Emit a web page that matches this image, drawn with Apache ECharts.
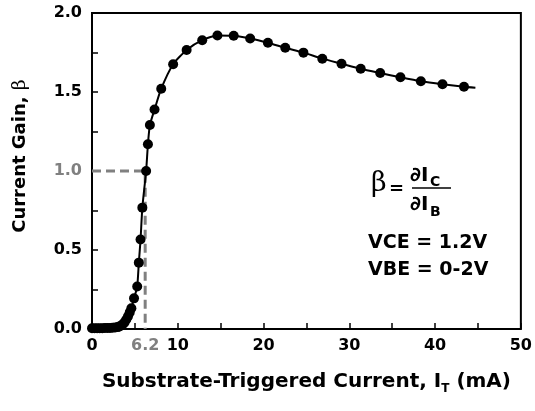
<!DOCTYPE html>
<html>
<head>
<meta charset="utf-8">
<script src="https://cdn.jsdelivr.net/npm/echarts@6/dist/echarts.min.js"></script>
<style>
  html, body { margin: 0; padding: 0; background: #fff; }
  #main { width: 535px; height: 411px; }
</style>
</head>
<body>
<div id="main"></div>
<script>
// substrate-triggered current (mA) and current gain
const currentMA = [0.0, 0.3, 0.6, 0.9, 1.2, 1.5, 1.8, 2.1, 2.4, 2.7, 3.0, 3.2, 3.4, 3.6, 3.8, 4.0, 4.2, 4.4,
  4.59, 4.90, 5.27, 5.46, 5.66, 5.87, 6.31, 6.52, 6.75, 7.29, 8.07, 9.46, 11.03, 12.85, 14.62, 16.52,
  18.44, 20.51, 22.53, 24.65, 26.85, 29.09, 31.33, 33.60, 35.96, 38.34, 40.86, 43.37];
const gain = [0.005, 0.005, 0.005, 0.005, 0.005, 0.006, 0.006, 0.007, 0.008, 0.010, 0.012, 0.016, 0.022, 0.030, 0.042, 0.060, 0.080, 0.105,
  0.131, 0.194, 0.269, 0.420, 0.566, 0.768, 1.000, 1.169, 1.291, 1.389, 1.521, 1.676, 1.766, 1.828, 1.858, 1.856,
  1.839, 1.812, 1.780, 1.749, 1.711, 1.679, 1.647, 1.620, 1.593, 1.568, 1.549, 1.533];
// fitted curve runs a little past the last measured point
const fitEnd = [44.7, 1.527];

// the beta = 1 crossing marked with dashed lines
const crossX = 6.2;
const crossY = 1.0;

const xLabels = [0, crossX, 10, 20, 30, 40, 50];
const yLabels = [0, 0.5, 1.0, 1.5, 2.0];

const chart = echarts.init(document.getElementById('main'));

const points = currentMA.map((x, i) => [x, gain[i]]);
points.push({ value: fitEnd, symbol: 'none' });

const font = '"DejaVu Sans", sans-serif';

chart.setOption({
  animation: false,
  grid: {
    left: 92, right: 11, top: 13, bottom: 82,
    show: true, borderColor: '#000', borderWidth: 2
  },
  xAxis: {
    type: 'value', min: 0, max: 50, interval: 5,
    axisLine: { show: false },
    axisTick: { show: true, inside: true, length: 6, lineStyle: { color: '#000', width: 1.5 } },
    splitLine: { show: false },
    axisLabel: {
      customValues: xLabels,
      margin: 9,
      formatter: v => v === crossX ? '{g|6.2}' : '{b|' + v + '}',
      rich: {
        b: { color: '#000', fontSize: 16, fontWeight: 'bold', fontFamily: font },
        g: { color: '#808080', fontSize: 16, fontWeight: 'bold', fontFamily: font }
      }
    },
    name: '{t|Substrate-Triggered Current, I}{s|T}{t| (mA)}',
    nameLocation: 'middle',
    nameGap: 40,
    nameTextStyle: {
      rich: {
        t: { fontSize: 20, fontWeight: 'bold', color: '#000', fontFamily: font },
        s: { fontSize: 12, fontWeight: 'bold', color: '#000', fontFamily: font, padding: [14, 0, 0, 0] }
      }
    }
  },
  yAxis: {
    type: 'value', min: 0, max: 2, interval: 0.25,
    axisLine: { show: false },
    axisTick: { show: true, inside: true, length: 6, lineStyle: { color: '#000', width: 1.5 } },
    splitLine: { show: false },
    axisLabel: {
      customValues: yLabels,
      margin: 10,
      formatter: v => v === crossY ? '{g|' + v.toFixed(1) + '}' : '{b|' + v.toFixed(1) + '}',
      rich: {
        b: { color: '#000', fontSize: 16, fontWeight: 'bold', fontFamily: font },
        g: { color: '#808080', fontSize: 16, fontWeight: 'bold', fontFamily: font }
      }
    },
    name: '{t|Current Gain, }{g|β}',
    nameLocation: 'middle',
    nameGap: 62,
    nameTextStyle: {
      padding: [0, 0, 0, 30],
      rich: {
        t: { fontSize: 18, fontWeight: 'bold', color: '#000', fontFamily: font },
        g: { fontSize: 19, fontWeight: 'normal', color: '#000', fontFamily: 'DejaVu Serif, serif' }
      }
    }
  },
  series: [
    {
      type: 'line',
      data: [[0, crossY], [crossX, crossY], [crossX, 0]],
      symbol: 'none',
      lineStyle: { color: '#808080', width: 3, type: [9, 5] },
      z: 1,
      silent: true
    },
    {
      type: 'line',
      data: points,
      smooth: 0.2,
      symbol: 'circle',
      symbolSize: 10,
      showAllSymbol: true,
      itemStyle: { color: '#000' },
      lineStyle: { color: '#000', width: 2 },
      z: 3
    }
  ],
  graphic: [
    { type: 'text', left: 371, top: 170, style: { text: 'β', font: 'normal 27px "DejaVu Serif", serif', fill: '#000' } },
    { type: 'text', left: 389, top: 180, style: { text: '=', font: 'bold 18px ' + font, fill: '#000' } },
    { type: 'text', left: 410, top: 166, style: { text: '∂I', font: 'bold 20px ' + font, fill: '#000' } },
    { type: 'text', left: 430, top: 175, style: { text: 'C', font: 'bold 14px ' + font, fill: '#000' } },
    { type: 'line', shape: { x1: 412, y1: 188, x2: 451, y2: 188 }, style: { stroke: '#000', lineWidth: 1.5 } },
    { type: 'text', left: 410, top: 195, style: { text: '∂I', font: 'bold 20px ' + font, fill: '#000' } },
    { type: 'text', left: 430, top: 205, style: { text: 'B', font: 'bold 14px ' + font, fill: '#000' } },
    { type: 'text', left: 368, top: 234, style: { text: 'VCE = 1.2V', font: 'bold 19px ' + font, fill: '#000' } },
    { type: 'text', left: 368, top: 261, style: { text: 'VBE = 0-2V', font: 'bold 19px ' + font, fill: '#000' } }
  ]
});
</script>
</body>
</html>
